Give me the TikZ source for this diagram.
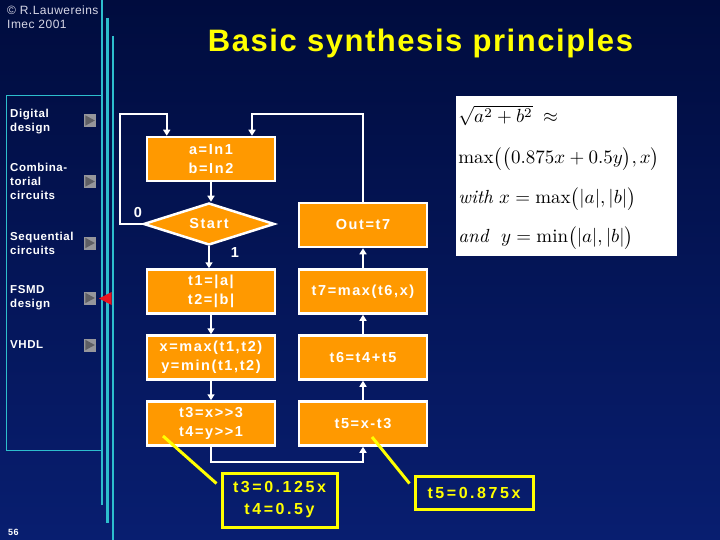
\documentclass[tikz,border=0pt]{standalone}
\usepackage{fontspec}
\usepackage{amsmath}
\usetikzlibrary{arrows.meta,shapes.geometric,calc}
\newfontfamily\menufont{Liberation Sans}[LetterSpace=5]
\newfontfamily\boxfont{Liberation Sans}[LetterSpace=11]
\newfontfamily\callfont{Liberation Sans}[LetterSpace=16]
\newfontfamily\titlefont{Liberation Sans}[LetterSpace=5]
\newfontfamily\copyfont{Liberation Sans}[LetterSpace=4]
\definecolor{bgtop}{RGB}{0,12,62}
\definecolor{bgbot}{RGB}{8,30,112}
\definecolor{cyanline}{RGB}{45,190,205}
\definecolor{orangebox}{RGB}{255,153,0}
\definecolor{yel}{RGB}{255,255,0}
\definecolor{btnbg}{RGB}{150,150,155}
\definecolor{btntri}{RGB}{95,95,100}
\definecolor{redtri}{RGB}{235,20,30}
\definecolor{copygray}{RGB}{215,215,230}
\begin{document}
\begin{tikzpicture}[x=1pt,y=-1pt,
  menu/.style={anchor=north west, inner sep=0pt, align=left, text=white,
    font={\menufont\bfseries\fontsize{11.5}{14}\selectfont}},
  fbox/.style={rectangle, fill=orangebox, draw=white, line width=2.5pt,
    minimum width=128pt, minimum height=44pt, inner sep=1pt, align=center, text=white,
    font={\boxfont\bfseries\fontsize{14.5}{19}\selectfont}},
  decis/.style={diamond, fill=orangebox, draw=white, line width=2.5pt, aspect=3,
    minimum width=131pt, minimum height=42pt, inner sep=0pt, text=white,
    font={\boxfont\bfseries\fontsize{14.5}{19}\selectfont}},
  arr/.style={draw=white, line width=2.5pt, -{Triangle[length=6pt,width=7pt]}},
  lbl/.style={text=white, inner sep=0pt, font={\boxfont\bfseries\fontsize{14.5}{16}\selectfont}},
  callout/.style={rectangle, draw=yel, line width=3pt, text=yel, align=center, inner sep=1pt,
    font={\callfont\bfseries\fontsize{16}{22}\selectfont}},
  yline/.style={draw=yel, line width=3pt},
  button/.style={fill=btnbg, minimum width=12pt, minimum height=13pt, inner sep=0pt},
  fml/.style={anchor=base west, inner sep=0pt, scale=1.9, text=black}
]
% background
\shade[top color=bgtop, bottom color=bgbot] (0,0) rectangle (720,540);
\useasboundingbox (0,0) rectangle (720,540);

% copyright
\node[anchor=base west, inner sep=0pt, text=copygray,
  font={\copyfont\fontsize{12}{14}\selectfont}] (copy) at (7,15) {© R.Lauwereins};
\node[anchor=base west, inner sep=0pt, text=copygray,
  font={\copyfont\fontsize{12}{14}\selectfont}] (imec) at (7,29) {Imec 2001};

% title
\node[anchor=base, inner sep=0pt, text=yel,
  font={\titlefont\bfseries\fontsize{31}{36}\selectfont}] (title) at (420.5,52) {Basic synthesis principles};

% cyan lines and panel
\draw[cyanline, line width=1pt] (6.5,96) rectangle (102,450);
\draw[cyanline, line width=2.5pt] (102,0) -- (102,505);
\draw[cyanline, line width=2.5pt] (107.5,18) -- (107.5,523);
\draw[cyanline, line width=2.5pt] (113,36) -- (113,540);

% menu
\node[menu] (m1) at (10,108.5) {Digital\\design};
\node[menu] (m2) at (10,162.5) {Combina-\\torial\\circuits};
\node[menu] (m3) at (10,231.5) {Sequential\\circuits};
\node[menu] (m4) at (10,285.5) {FSMD\\design};
\node[menu] (m5) at (10,340.5) {VHDL};
\foreach \yy/\nm in {120.5/b1,181.5/b2,243/b3,298/b4,345/b5}{
  \node[button] (\nm) at (90,\yy) {};
  \fill[btntri] ($(\nm.north west)+(1.5,1.5)$) -- ($(\nm.west)+(11,0)$) -- ($(\nm.south west)+(1.5,-1.5)$) -- cycle;
}
\fill[redtri] (99,298.5) -- (111.5,292) -- (111.5,305) -- cycle;

% page number
\node[anchor=base west, inner sep=0pt, text=white,
  font={\menufont\bfseries\fontsize{9}{10}\selectfont}] (pg) at (8,535) {56};

% flowchart
\node[fbox] (A) at (211,159) {a=In1\\b=In2};
\node[decis] (S) at (209,224) {Start};
\node[fbox] (O) at (363,225) {Out=t7};
\node[fbox] (T1) at (211,291.5) {t1=|a|\\t2=|b|};
\node[fbox] (T7) at (363,291.5) {t7=max(t6,x)};
\node[fbox] (X) at (211,357.5) {x=max(t1,t2)\\y=min(t1,t2)};
\node[fbox] (T6) at (363,357.5) {t6=t4+t5};
\node[fbox] (T3) at (211,423.5) {t3=x>{}>3\\t4=y>{}>1};
\node[fbox] (T5) at (363,423.5) {t5=x-t3};

\coordinate (l1) at (120,114);
\coordinate (l2) at (252,114);
\coordinate (l3) at (211,462);

\draw[arr] (A.south) -- (A.south |- S.north);
\draw[arr] (S.west) -| (l1) -| ([xshift=21pt]A.north west);
\draw[arr] (O.north) |- (l2) -- (l2 |- A.north);
\draw[arr] (S.south) -- (S.south |- T1.north);
\draw[arr] (T1.south) -- (X.north);
\draw[arr] (X.south) -- (T3.north);
\draw[arr] (T3.south) -- (l3) -| (T5.south);
\draw[arr] (T5.north) -- (T6.south);
\draw[arr] (T6.north) -- (T7.south);
\draw[arr] (T7.north) -- (O.south);

\node[lbl] (zero) at (138,213) {0};
\node[lbl] (one) at (235,253) {1};

% callouts
\node[callout, minimum width=115pt, minimum height=54pt] (C1) at (279.5,500) {t3=0.125x\\t4=0.5y};
\node[callout, minimum width=118pt, minimum height=33pt] (C2) at (474,492.5) {t5=0.875x};
\coordinate (y1) at (163,436);
\coordinate (y2) at (372,437);
\draw[yline] (y1) -- ($(C1.north west)+(-4,12)$);
\draw[yline] (y2) -- ($(C2.north west)+(-4,9)$);

% formula
\node[fill=white, minimum width=221pt, minimum height=160pt, inner sep=0pt] (F) at (566.5,176) {};
\node[fml] (f1) at (458,123) {$\sqrt{a^2+b^2}\;\approx$};
\node[fml] (f2) at (458,164) {$\max\bigl(\bigl(0.875x+0.5y\bigr),x\bigr)$};
\node[fml] (f3) at (458,204) {$\mathit{with}\ x=\max\bigl(|a|,|b|\bigr)$};
\node[fml] (f4) at (458,243) {$\mathit{and}\ \ y=\min\bigl(|a|,|b|\bigr)$};
\end{tikzpicture}
\end{document}
